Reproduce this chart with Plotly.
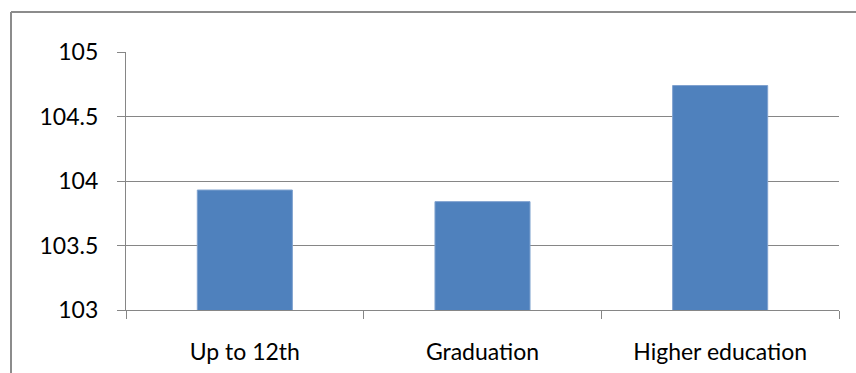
import plotly.graph_objects as go

# Education level vs. mean score
categories = ["Up to 12th", "Graduation", "Higher education"]
values = [103.93, 103.84, 104.74]

y_tick_vals = [103, 103.5, 104, 104.5, 105]
y_tick_text = ["103", "103.5", "104", "104.5", "105"]

GRID = "#868686"
BAR = "#4F81BD"
FONT = dict(family="Lato, Carlito, Calibri, sans-serif", size=23, color="#000000")

fig = go.Figure(
    go.Bar(
        x=categories,
        y=values,
        width=0.4,
        marker=dict(color=BAR, line=dict(width=1, color="#7FA2CF")),
    )
)

fig.update_layout(
    width=856,
    height=373,
    margin=dict(l=126, r=17, t=52, b=63),
    paper_bgcolor="white",
    plot_bgcolor="white",
    showlegend=False,
    font=FONT,
    bargap=0.6,
)

fig.update_yaxes(
    range=[103, 105],
    tickvals=y_tick_vals,
    ticktext=y_tick_text,
    showgrid=True,
    gridcolor=GRID,
    gridwidth=1.3,
    showline=True,
    linecolor=GRID,
    linewidth=1.3,
    ticks="outside",
    ticklen=8,
    tickcolor=GRID,
    tickwidth=1.3,
    ticklabelstandoff=14,
    zeroline=False,
    tickfont=FONT,
    automargin=False,
)

fig.update_xaxes(
    type="category",
    showline=True,
    linecolor=GRID,
    linewidth=1.3,
    ticks="outside",
    tickson="boundaries",
    ticklen=8,
    tickcolor=GRID,
    tickwidth=1.3,
    ticklabelstandoff=21,
    tickfont=FONT,
    showgrid=False,
    automargin=False,
)

# Chart frame (left and top edges)
fig.add_shape(type="line", xref="paper", yref="paper",
              x0=(11 - 126) / 713, x1=(11 - 126) / 713, y0=1 + 40 / 258, y1=-0.3,
              line=dict(color="#8C8C8C", width=2))
fig.add_shape(type="line", xref="paper", yref="paper",
              x0=(11 - 126) / 713, x1=1.1, y0=1 + 40 / 258, y1=1 + 40 / 258,
              line=dict(color="#8C8C8C", width=2))

fig.write_html("out.html")
